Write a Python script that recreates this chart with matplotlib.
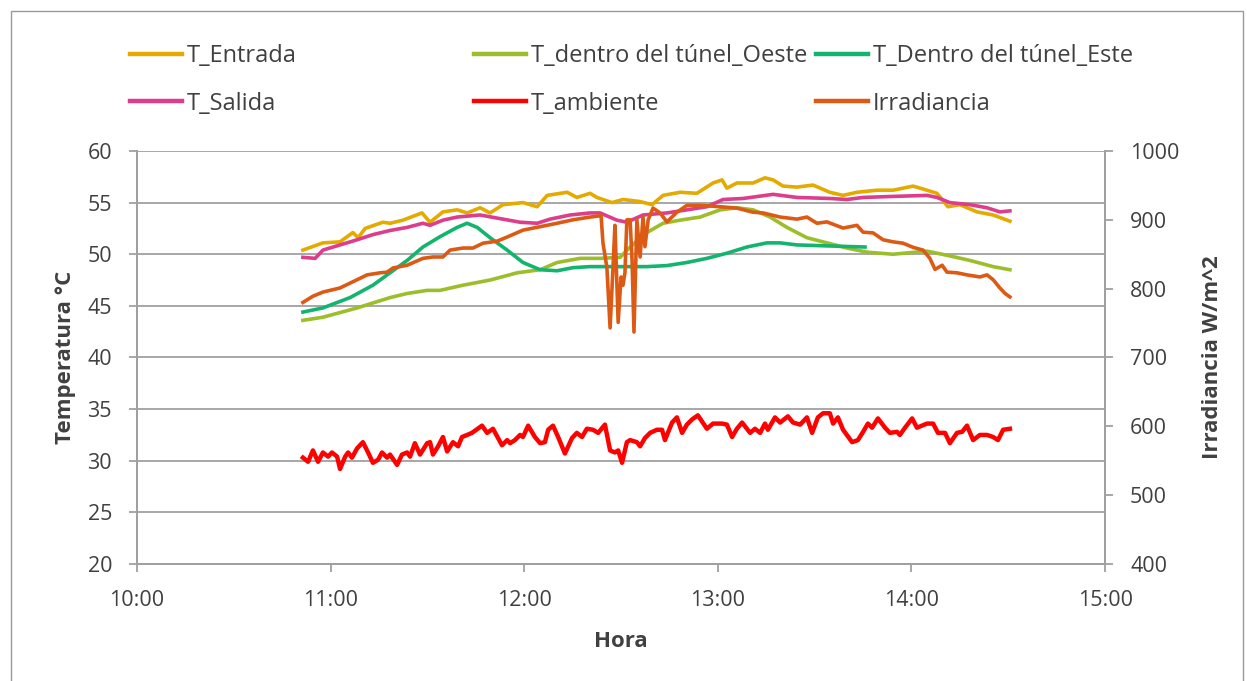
import matplotlib
matplotlib.use("Agg")
import matplotlib.pyplot as plt
from matplotlib.lines import Line2D
from matplotlib.patches import Rectangle

plt.rcParams['font.family'] = ['Open Sans', 'DejaVu Sans']

# minutos desde las 10:00
hora_ticks = [0, 60, 120, 180, 240, 300]
hora_labels = ['10:00', '11:00', '12:00', '13:00', '14:00', '15:00']

t_entrada = [51.4, 57.6, 62.9, 66.9, 68.5, 70.7, 76.2, 78.4, 82.4, 88.3,
             90.8, 94.8, 99.2, 102.3, 106.3, 109.4, 113.4, 119.6, 124.0, 127.1,
             133.3, 136.3, 140.4, 142.5, 147.2, 150.6, 155.9, 159.6, 163.0, 168.3,
             173.5, 178.5, 181.3, 182.8, 185.9, 190.9, 194.6, 197.1, 200.2, 204.5,
             209.5, 214.7, 218.8, 223.1, 229.3, 234.3, 240.5, 244.8, 247.9, 251.3,
             255.0, 260.3, 265.3, 270.5]
entrada = [50.4, 51.1, 51.2, 52.1, 51.6, 52.5, 53.1, 53.0, 53.3, 54.0,
           53.1, 54.1, 54.3, 54.0, 54.5, 54.0, 54.8, 55.0, 54.6, 55.7,
           56.0, 55.5, 55.9, 55.5, 55.0, 55.3, 55.1, 54.8, 55.7, 56.0,
           55.9, 56.9, 57.2, 56.4, 56.9, 56.9, 57.4, 57.2, 56.6, 56.5,
           56.7, 56.0, 55.7, 56.0, 56.2, 56.2, 56.6, 56.2, 55.9, 54.6,
           54.8, 54.1, 53.8, 53.2]

t_salida = [51.4, 55.2, 57.6, 62.9, 68.2, 73.1, 78.4, 83.7, 88.6, 90.8,
            94.8, 99.2, 106.3, 111.6, 118.7, 124.0, 128.0, 134.2, 140.4, 143.5,
            148.7, 151.8, 156.8, 164.2, 170.4, 176.6, 181.6, 187.8, 197.1, 204.5,
            214.7, 220.0, 225.0, 234.3, 244.8, 247.9, 251.9, 258.1, 263.4, 267.4,
            270.5]
salida = [49.7, 49.6, 50.4, 50.9, 51.4, 51.9, 52.3, 52.6, 53.0, 52.8,
          53.3, 53.6, 53.8, 53.5, 53.1, 53.0, 53.4, 53.8, 54.0, 54.0,
          53.3, 53.1, 53.8, 54.0, 54.3, 54.6, 55.3, 55.4, 55.8, 55.5,
          55.4, 55.3, 55.5, 55.6, 55.7, 55.5, 55.0, 54.8, 54.5, 54.1,
          54.2]

t_oeste = [51.4, 57.6, 68.2, 78.4, 83.7, 89.9, 93.9, 101.0, 109.4, 117.8,
           124.9, 130.2, 137.3, 143.5, 149.7, 152.8, 158.0, 163.0, 168.3, 174.5,
           180.7, 185.9, 190.9, 196.2, 201.4, 207.6, 213.8, 220.0, 226.2, 234.3,
           244.8, 251.0, 258.1, 265.3, 270.5]
oeste = [43.6, 43.9, 44.8, 45.8, 46.2, 46.5, 46.5, 47.0, 47.5, 48.2,
         48.5, 49.2, 49.6, 49.6, 49.7, 50.7, 52.1, 53.0, 53.3, 53.6,
         54.3, 54.5, 54.3, 53.6, 52.6, 51.6, 51.1, 50.6, 50.2, 50.0,
         50.3, 49.9, 49.4, 48.8, 48.5]

t_este = [51.4, 57.6, 66.0, 73.1, 78.4, 83.7, 88.6, 93.9, 99.2, 102.3,
          105.4, 109.4, 114.7, 119.6, 124.9, 130.2, 135.1, 140.4, 147.5, 158.0,
          164.2, 170.4, 176.6, 182.8, 189.0, 195.2, 199.3, 204.5, 214.7, 225.6]
este = [44.4, 44.8, 45.8, 47.0, 48.2, 49.4, 50.7, 51.7, 52.6, 53.0,
        52.6, 51.6, 50.4, 49.2, 48.5, 48.4, 48.7, 48.8, 48.8, 48.8,
        48.9, 49.2, 49.6, 50.1, 50.7, 51.1, 51.1, 50.9, 50.8, 50.7]

t_ambiente = [51.4, 53.0, 54.5, 56.1, 57.6, 59.2, 60.4, 62.0, 62.9, 64.5,
              65.4, 66.6, 68.2, 70.0, 71.6, 73.1, 74.7, 75.9, 77.5, 78.4,
              80.6, 82.1, 83.7, 84.6, 86.1, 87.7, 89.9, 90.8, 91.7, 93.3,
              94.8, 96.1, 97.9, 99.5, 100.7, 102.3, 103.8, 106.9, 108.5, 110.3,
              113.1, 114.7, 115.6, 117.1, 118.7, 119.6, 121.2, 123.3, 124.9, 126.4,
              127.4, 128.9, 130.5, 132.6, 134.8, 136.3, 137.9, 139.4, 141.3, 142.9,
              145.0, 146.6, 148.1, 149.1, 150.3, 151.8, 152.8, 154.9, 155.9, 157.4,
              159.0, 161.1, 162.7, 163.6, 165.8, 167.3, 168.9, 170.4, 172.0, 173.8,
              176.6, 178.5, 181.3, 182.8, 184.4, 185.9, 187.5, 190.0, 191.5, 193.1,
              194.6, 195.5, 197.7, 199.3, 201.7, 203.3, 205.5, 207.6, 209.2, 211.0,
              212.6, 214.7, 215.7, 217.2, 218.8, 221.6, 223.4, 225.0, 226.5, 227.8,
              229.6, 231.8, 233.3, 235.5, 236.4, 238.0, 240.2, 241.7, 244.8, 246.7,
              248.2, 250.4, 251.9, 254.1, 255.7, 257.2, 259.1, 261.2, 263.4, 265.3,
              266.8, 268.4, 270.5]
ambiente = [30.3, 29.9, 31.0, 29.9, 30.8, 30.4, 30.8, 30.4, 29.2, 30.4,
            30.8, 30.3, 31.2, 31.8, 30.8, 29.8, 30.1, 30.8, 30.3, 30.6,
            29.6, 30.6, 30.8, 30.4, 31.7, 30.6, 31.7, 31.8, 30.6, 31.4,
            32.3, 30.9, 31.8, 31.4, 32.3, 32.5, 32.7, 33.4, 32.7, 33.1,
            31.5, 32.0, 31.7, 32.0, 32.5, 32.3, 33.4, 32.3, 31.7, 31.8,
            33.0, 33.4, 32.3, 30.7, 32.2, 32.7, 32.3, 33.1, 33.0, 32.7,
            33.5, 31.0, 30.8, 31.0, 29.8, 31.8, 32.0, 31.8, 31.4, 32.2,
            32.7, 33.0, 33.0, 32.0, 33.7, 34.2, 32.7, 33.5, 34.0, 34.4,
            33.1, 33.6, 33.6, 33.5, 32.3, 33.1, 33.7, 32.7, 33.1, 32.7,
            33.6, 33.0, 34.2, 33.7, 34.3, 33.7, 33.5, 34.2, 32.7, 34.2,
            34.6, 34.6, 33.6, 34.2, 33.0, 31.8, 32.0, 32.8, 33.6, 33.2,
            34.1, 33.2, 32.7, 32.8, 32.5, 33.2, 34.1, 33.2, 33.6, 33.6,
            32.7, 32.7, 31.7, 32.7, 32.8, 33.4, 32.0, 32.5, 32.5, 32.3,
            32.0, 33.0, 33.1]

t_irradiancia = [51.4, 54.5, 57.6, 62.9, 66.0, 71.3, 75.3, 77.5, 79.3, 83.7,
                 88.6, 91.7, 94.8, 97.0, 101.0, 104.1, 107.2, 111.6, 114.7, 119.6,
                 124.9, 130.2, 135.1, 140.4, 143.8, 144.4, 145.6, 146.6, 147.5, 148.1,
                 149.1, 150.0, 150.6, 151.2, 151.8, 152.8, 153.4, 154.0, 154.9, 155.9,
                 156.8, 157.4, 158.4, 159.9, 162.1, 164.2, 167.3, 170.4, 174.5, 180.7,
                 185.9, 190.9, 194.0, 199.3, 204.5, 207.6, 210.7, 213.8, 218.8, 223.1,
                 225.0, 228.1, 231.2, 234.3, 237.4, 240.5, 243.6, 245.7, 247.3, 249.5,
                 251.0, 254.1, 257.2, 261.2, 263.4, 265.3, 267.4, 269.0, 270.5]
irradiancia = [780, 789, 795, 801, 808, 820, 823, 824, 830, 834,
               844, 846, 846, 856, 859, 859, 866, 869, 875, 885,
               890, 895, 900, 904, 906, 866, 831, 743, 831, 892,
               751, 817, 805, 823, 900, 900, 842, 737, 900, 846,
               904, 861, 900, 917, 910, 897, 911, 921, 921, 919,
               917, 911, 910, 904, 901, 904, 895, 897, 888, 892,
               882, 881, 871, 868, 866, 860, 856, 844, 828, 834,
               824, 823, 820, 817, 820, 813, 801, 793, 788]

c_entrada = '#E5AA00'
c_salida = '#DD3D8B'
c_oeste = '#9CBE2A'
c_este = '#13B46E'
c_ambiente = '#FF0000'
c_irr = '#DD5A14'
gris = '#A0A0A0'
texto = '#404040'

fig = plt.figure(figsize=(12.47, 6.81), dpi=100)
fig.patches.append(Rectangle((0.0088, -0.05), 0.988, 1.034, transform=fig.transFigure,
                             fill=False, edgecolor='#9A9A9A', linewidth=1.0))

ax1 = fig.add_axes([0.1099, 0.1718, 0.7763, 0.6065])
ax2 = ax1.twinx()

lw = 2.6
ax1.plot(t_entrada, entrada, color=c_entrada, lw=lw, solid_joinstyle='round')
ax1.plot(t_salida, salida, color=c_salida, lw=lw, solid_joinstyle='round')
ax1.plot(t_oeste, oeste, color=c_oeste, lw=lw, solid_joinstyle='round')
ax1.plot(t_este, este, color=c_este, lw=lw, solid_joinstyle='round')
ax1.plot(t_ambiente, ambiente, color=c_ambiente, lw=3.2, solid_joinstyle='round')
ax2.plot(t_irradiancia, irradiancia, color=c_irr, lw=lw, solid_joinstyle='round')

ax1.set_xlim(0, 300)
ax1.set_ylim(20, 60)
ax1.set_yticks(range(20, 61, 5))
ax1.set_xticks(hora_ticks)
ax1.set_xticklabels(hora_labels)
ax2.set_ylim(400, 1000)
ax2.set_yticks(range(400, 1001, 100))

ax1.grid(axis='y', color=gris, linewidth=1.3)
ax1.set_axisbelow(True)
for ax in (ax1, ax2):
    ax.spines['top'].set_visible(False)
    for s in ['left', 'right', 'bottom']:
        ax.spines[s].set_color(gris)
        ax.spines[s].set_linewidth(1.3)
    ax.tick_params(colors=gris, labelcolor=texto, labelsize=15.5, length=6, width=1.3)
ax1.tick_params(axis='x', pad=13)
ax1.tick_params(axis='y', pad=12)
ax2.tick_params(axis='y', pad=12)

ax1.set_ylabel('Temperatura °C', fontsize=16, fontweight='bold', color=texto, labelpad=8)
ax2.set_ylabel('Irradiancia W/m^2', fontsize=16, fontweight='bold', color=texto, labelpad=16)
ax1.set_xlabel('Hora', fontsize=16, fontweight='bold', color=texto, labelpad=14)

def h(c):
    return Line2D([], [], color=c, lw=3.2)

columnas = [
    (0.091, [h(c_entrada), h(c_salida)], ['T_Entrada', 'T_Salida']),
    (0.367, [h(c_oeste), h(c_ambiente)], ['T_dentro del túnel_Oeste', 'T_ambiente']),
    (0.641, [h(c_este), h(c_irr)], ['T_Dentro del túnel_Este', 'Irradiancia']),
]
for x0, hs, ls in columnas:
    fig.legend(hs, ls, loc='upper left', bbox_to_anchor=(x0, 0.959), frameon=False,
               fontsize=17, handlelength=2.2, handletextpad=0.2, labelspacing=0.98,
               labelcolor=texto, borderpad=0.2)

fig.savefig('out.png', dpi=100)
